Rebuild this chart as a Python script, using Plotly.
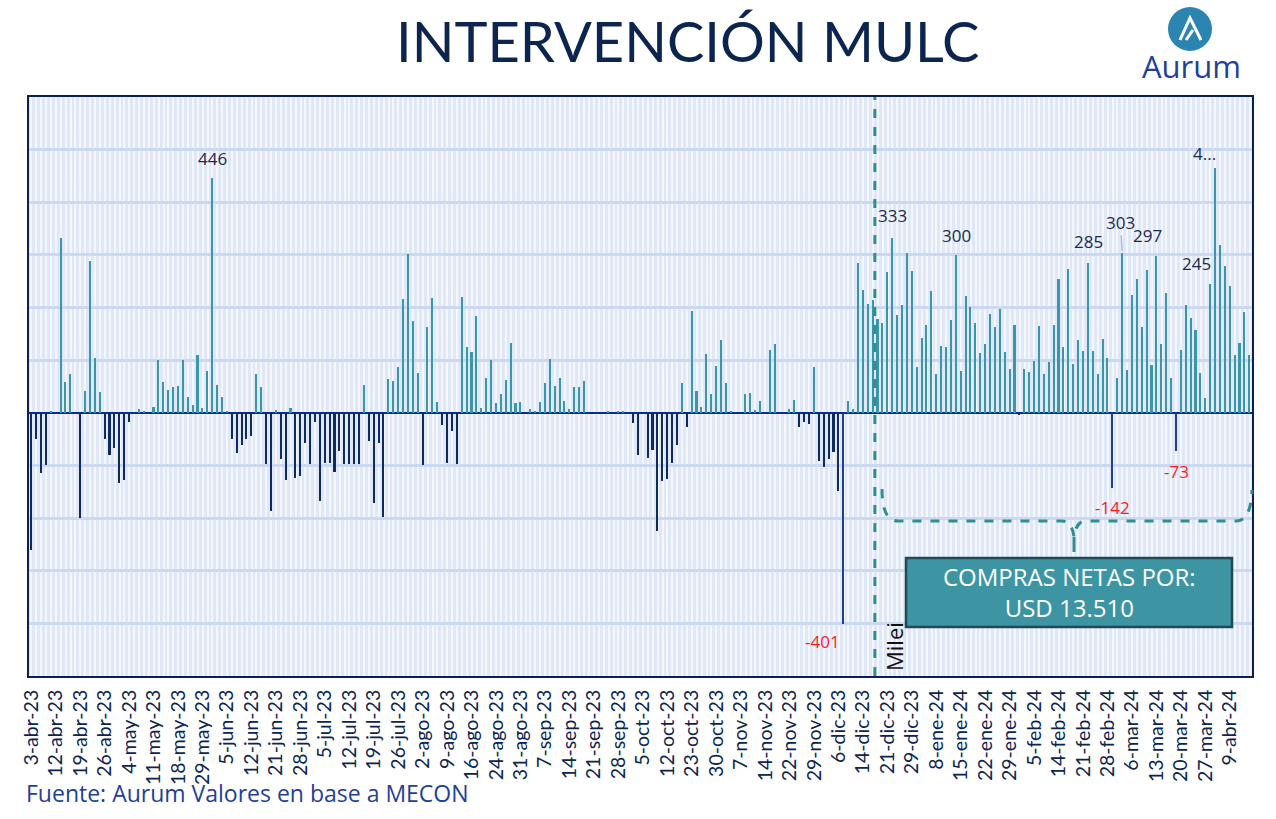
import plotly.graph_objects as go

# ---------------- data ----------------
tick_labels = ["3-abr-23", "12-abr-23", "19-abr-23", "26-abr-23", "4-may-23", "11-may-23",
               "18-may-23", "29-may-23", "5-jun-23", "12-jun-23", "21-jun-23", "28-jun-23",
               "5-jul-23", "12-jul-23", "19-jul-23", "26-jul-23", "2-ago-23", "9-ago-23",
               "16-ago-23", "24-ago-23", "31-ago-23", "7-sep-23", "14-sep-23", "21-sep-23",
               "28-sep-23", "5-oct-23", "12-oct-23", "23-oct-23", "30-oct-23", "7-nov-23",
               "14-nov-23", "22-nov-23", "29-nov-23", "6-dic-23", "14-dic-23", "21-dic-23",
               "29-dic-23", "8-ene-24", "15-ene-24", "22-ene-24", "29-ene-24", "5-feb-24",
               "14-feb-24", "21-feb-24", "28-feb-24", "6-mar-24", "13-mar-24", "20-mar-24",
               "27-mar-24", "9-abr-24"]
days_per_tick = 5

# daily net purchases (USD millions), one per business day
values = [
    -260, -49, -114, -99, 2, 0, 332, 59, 73, 0,
    -199, 42, 288, 105, 40, -49, -80, -67, -133, -127,
    -18, 0, 8, 2, 0, 11, 100, 59, 43, 50,
    51, 100, 31, 14, 110, 10, 80, 446, 53, 31,
    4, -49, -76, -62, -49, -44, 73, 50, -98, -187,
    6, -88, -127, 10, -124, -120, -58, -98, -18, -167,
    -95, -95, -112, -73, -98, -98, -98, -98, 53, -54,
    -171, -58, -197, 65, 61, 88, 216, 301, 174, 75,
    -99, 163, 218, 20, -23, -95, -35, -98, 220, 125,
    116, 184, 10, 67, 100, 19, 36, 63, 133, 19,
    21, 0, 8, 2, 21, 57, 103, 51, 67, 23,
    8, 50, 50, 61, 0, 0, 0, 0, 2, 0,
    2, 2, 0, -19, -81, 0, -85, -70, -224, -130,
    -126, -95, -62, 57, -27, 194, 42, 11, 112, 36,
    89, 139, 57, 2, 0, 0, 36, 38, 6, 23,
    0, 120, 131, 0, 0, 8, 25, -27, -18, -21,
    88, -92, -103, -87, -75, -148, -401, 23, 8, 284,
    234, 206, 214, 179, 171, 267, 333, 186, 205, 303,
    269, 88, 142, 167, 231, 73, 127, 125, 177, 300,
    80, 221, 201, 171, 114, 131, 188, 163, 197, 116,
    83, 167, -5, 83, 78, 99, 165, 74, 97, 167,
    254, 125, 273, 93, 139, 117, 285, 117, 73, 140,
    105, -142, 67, 303, 82, 224, 254, 163, 271, 90,
    297, 131, 227, 67, -73, 120, 205, 180, 157, 76,
    29, 245, 466, 318, 278, 241, 109, 133, 191, 110,
]

# labelled bars: index -> (text, xshift px, yshift px)
pos_labels = {37: ("446", 0, 20), 176: ("333", 0, 22), 189: ("300", 0, 19),
              216: ("285", 0, 21), 230: ("297", -9, 21), 241: ("245", -14, 20),
              242: ("4...", -11, 14)}
neg_labels = {166: ("-401", -21, -18), 221: ("-142", 0, -20), 234: ("-73", 0, -20)}
leader_label = {223: "303"}
milei_pos = 172.4
summary_text = "COMPRAS NETAS POR:<br>USD 13.510"

# ---------------- style ----------------
POS = "#3a97a8"
NEG = "#0f2a5c"
NEG_HI = "#1f3f96"
NAVY = "#0c2550"
TEAL = "#2f8f8f"

x = list(range(len(values)))
colors = []
for i, v in enumerate(values):
    if v >= 0:
        colors.append(POS)
    elif i in neg_labels:
        colors.append(NEG_HI)
    else:
        colors.append(NEG)

fig = go.Figure(go.Bar(x=x, y=values, marker=dict(color=colors, line=dict(width=0)),
                       width=0.32, hoverinfo="x+y"))

W, H = 1276, 819
L, R, T, B = 29, 1252, 97, 676


def px(xp):
    return (xp - L) / (R - L)


def py(yp):
    return (B - yp) / (B - T)


annotations = []
for i, (t, xs, ys) in pos_labels.items():
    annotations.append(dict(x=i, y=values[i], text=t, showarrow=False, xshift=xs, yshift=ys,
                            xanchor="center", yanchor="middle",
                            font=dict(size=17, color="#1b2a4e", family="Open Sans")))
for i, (t, xs, ys) in neg_labels.items():
    annotations.append(dict(x=i, y=values[i], text=t, showarrow=False, xshift=xs, yshift=ys,
                            xanchor="center", yanchor="middle",
                            font=dict(size=17, color="#ff1a1a", family="Open Sans")))
for i, t in leader_label.items():
    annotations.append(dict(x=i, y=values[i], text=t, showarrow=True, arrowhead=0,
                            arrowcolor="#9ec3ea", arrowwidth=1.5, ax=-2, ay=-31,
                            standoff=2, font=dict(size=17, color="#1b2a4e", family="Open Sans")))


def paper_text(xp, yp, text, size, color, family="Open Sans", xanchor="center", **kw):
    return dict(x=px(xp), y=py(yp), xref="paper", yref="paper", text=text, showarrow=False,
                xanchor=xanchor, yanchor="middle", font=dict(size=size, color=color, family=family),
                **kw)


annotations.append(paper_text(894, 647, "Milei", 22, "#111111", textangle=-90))
annotations.append(paper_text(1069, 592, summary_text, 24, "white"))
annotations.append(paper_text(687, 40, "INTERVENCIÓN MULC", 56, NAVY, family="Lato"))
annotations.append(paper_text(24, 793, "Fuente: Aurum Valores en base a MECON", 23, "#1f3f99",
                              xanchor="left"))
annotations.append(paper_text(1191, 66, "Aurum", 31, "#1f3f99"))

shapes = []
# Milei dashed line
shapes.append(dict(type="line", xref="x", yref="paper", x0=milei_pos, x1=milei_pos, y0=0, y1=1,
                   line=dict(color=TEAL, width=3, dash="dash")))
# brace
pts = (f"M {px(882)},{py(489)} Q {px(882)},{py(521)} {px(898)},{py(521)} "
       f"L {px(1062)},{py(521)} Q {px(1072)},{py(521)} {px(1074)},{py(537)} "
       f"Q {px(1076)},{py(521)} {px(1086)},{py(521)} L {px(1236)},{py(521)} "
       f"Q {px(1251)},{py(521)} {px(1252)},{py(490)}")
shapes.append(dict(type="path", xref="paper", yref="paper", path=pts,
                   line=dict(color=TEAL, width=3, dash="dash")))
shapes.append(dict(type="line", xref="paper", yref="paper", x0=px(1074), x1=px(1074),
                   y0=py(537), y1=py(552), line=dict(color=TEAL, width=3)))
# summary box
shapes.append(dict(type="rect", xref="paper", yref="paper", x0=px(906), x1=px(1232),
                   y0=py(627), y1=py(558), fillcolor="#3d95a3",
                   line=dict(color="#1d4a55", width=2.5)))
# logo circle
shapes.append(dict(type="circle", xref="paper", yref="paper", x0=px(1168), x1=px(1212),
                   y0=py(51), y1=py(7), fillcolor="#2c84b0", line=dict(width=0)))
shapes.append(dict(type="path", xref="paper", yref="paper",
                   path=f"M {px(1180)},{py(40)} L {px(1190)},{py(18)} L {px(1201)},{py(40)} "
                        f"M {px(1186)},{py(40)} L {px(1193)},{py(30)}",
                   line=dict(color="white", width=3)))

fig.update_layout(
    width=W, height=H,
    margin=dict(l=L, r=W - R, t=T, b=H - B, autoexpand=False),
    paper_bgcolor="white",
    plot_bgcolor="#e0e8f8",
    showlegend=False,
    bargap=0,
    annotations=annotations,
    shapes=shapes,
)
fig.update_xaxes(
    range=[-0.5, len(values) - 0.5],
    tickmode="array",
    tickvals=[k * days_per_tick for k in range(len(tick_labels))],
    ticktext=tick_labels,
    tickangle=-90,
    tickfont=dict(size=19.5, color=NAVY, family="Lato"),
    ticklabelstandoff=4,
    showgrid=False,
    minor=dict(dtick=1, tick0=0, showgrid=True, gridcolor="#f4f7fd", gridwidth=2),
    showline=True, mirror=True, linecolor="#0b2150", linewidth=2,
    ticks="", automargin=False, zeroline=False,
)
fig.update_yaxes(
    range=[-500, 600], dtick=100, showticklabels=False,
    showgrid=True, gridcolor="#cbd8f2", gridwidth=3,
    zeroline=True, zerolinecolor="#0a2d8c", zerolinewidth=2,
    showline=True, mirror=True, linecolor="#0b2150", linewidth=2,
    automargin=False, ticks="",
)

fig.write_html("out.html")
